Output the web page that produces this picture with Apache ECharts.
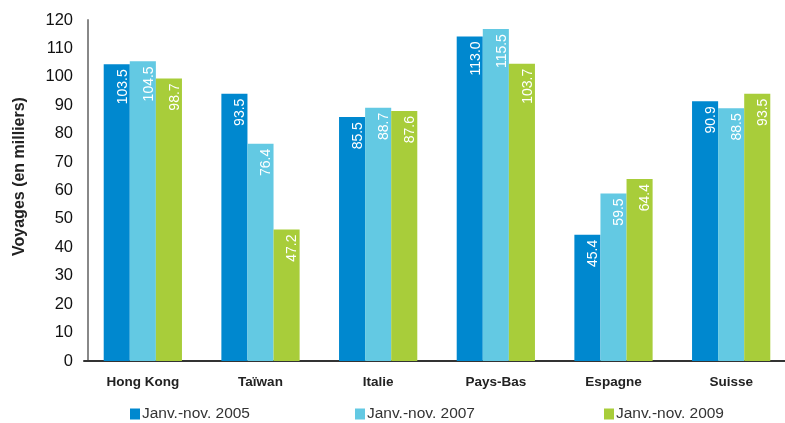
<!DOCTYPE html>
<html><head><meta charset="utf-8">
<script src="https://cdn.jsdelivr.net/npm/echarts@6/dist/echarts.min.js"></script>
<style>html,body{margin:0;padding:0;background:#fff}#c{width:785px;height:423px}</style>
</head><body><div id="c"></div>
<script>
const categories = ['Hong Kong', 'Taïwan', 'Italie', 'Pays-Bas', 'Espagne', 'Suisse'];
const seriesNames = ['Janv.-nov. 2005', 'Janv.-nov. 2007', 'Janv.-nov. 2009'];
const s2005 = [103.5, 93.5, 85.5, 113.0, 45.4, 90.9];
const s2007 = [104.5, 76.4, 88.7, 115.5, 59.5, 88.5];
const s2009 = [98.7, 47.2, 87.6, 103.7, 64.4, 93.5];
const colors = ['#0088cf', '#63c9e3', '#a8cd3a'];
const font = 'Liberation Sans, Arial, sans-serif';

const chart = echarts.init(document.getElementById('c'));
const mk = (name, data, color) => ({
  name, type: 'bar', data, yAxisIndex: 1, barGap: '0%', barCategoryGap: '33.5%',
  itemStyle: { color },
  label: { show: true, position: 'insideTop', rotate: 90, align: 'right', verticalAlign: 'middle', offset: [0, 6],
    color: '#fff', fontSize: 14, fontFamily: font, formatter: p => p.value.toFixed(1) }
});
const legendPos = [125, 350, 599];
chart.setOption({
  animation: false,
  grid: { left: 84, width: 706, top: 20, bottom: 62, outerBoundsMode: 'none', containLabel: false },
  legend: seriesNames.map((n, i) => ({
    data: [n], left: legendPos[i], top: 401, icon: 'rect', itemWidth: 10, itemHeight: 11, itemGap: 2,
    textStyle: { fontSize: 15.5, fontFamily: font, color: '#333', padding: [0, 0, 0, -3] }
  })),
  xAxis: {
    type: 'category', data: categories,
    axisLine: { lineStyle: { color: '#333', width: 2 } },
    axisTick: { show: false },
    axisLabel: { fontSize: 13.5, fontWeight: 'bold', fontFamily: font, color: '#222', margin: 14 }
  },
  yAxis: [{
    type: 'value', min: 0, max: 120, interval: 10, offset: -4,
    name: 'Voyages (en milliers)', nameLocation: 'middle', nameGap: 60, nameRotate: 90,
    nameTextStyle: { fontSize: 16, fontWeight: 'bold', fontFamily: font, color: '#222', padding: [0, 0, 0, 28] },
    axisLine: { show: true, lineStyle: { color: '#888', width: 2 } },
    axisTick: { show: false },
    splitLine: { show: false },
    axisLabel: { fontSize: 16.5, fontFamily: font, color: '#111', margin: 15 }
  }, {
    type: 'value', min: 2.385, max: 118.6, show: false, splitLine: { show: false }
  }],
  series: [mk(seriesNames[0], s2005, colors[0]), mk(seriesNames[1], s2007, colors[1]), mk(seriesNames[2], s2009, colors[2])]
});
</script></body></html>
